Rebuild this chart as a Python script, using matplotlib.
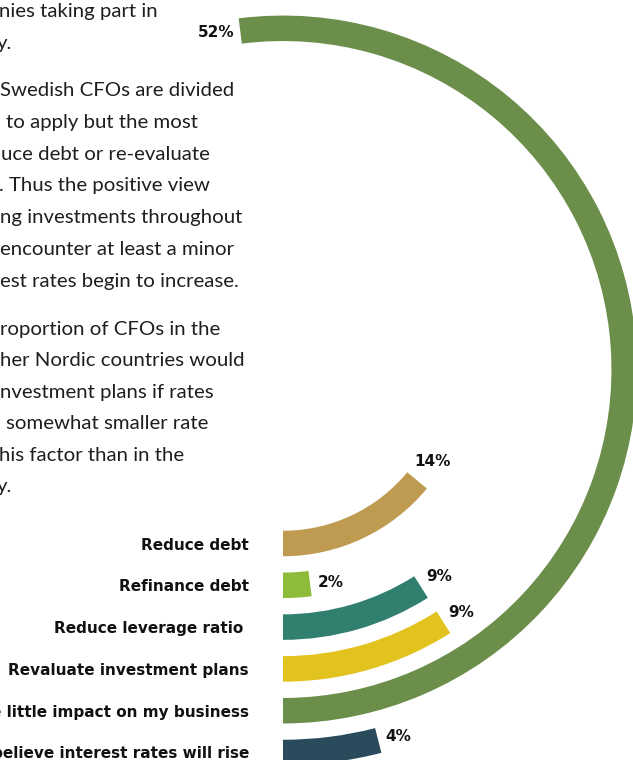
import numpy as np
import matplotlib.pyplot as plt

# Survey answers, innermost ring first
categories = ["Reduce debt", "Refinance debt", "Reduce leverage ratio ",
              "Revaluate investment plans", "e little impact on my business",
              "believe interest rates will rise"]
shares = [14, 2, 9, 9, 52, 4]
colors = ["#bf9b52", "#8fbb3b", "#31806f", "#e2c21d", "#6b8e4a", "#2a4b5c"]

# Body copy running down the left side (only the right part of each line shows)
para1 = ["nies taking part in", "y."]
para2 = ["Swedish CFOs are divided", "to apply but the most",
         "uce debt or re-evaluate", ". Thus the positive view",
         "ng investments throughout", "encounter at least a minor",
         "est rates begin to increase."]
para3 = ["roportion of CFOs in the", "her Nordic countries would",
         "nvestment plans if rates", "somewhat smaller rate",
         "his factor than in the", "y."]

W, H = 633, 760
BODY_FONT = "Lato"
LABEL_FONT = "DejaVu Sans"

fig = plt.figure(figsize=(W / 100, H / 100), dpi=100)
fig.patch.set_facecolor("white")


def body_text(lines, indents, y0, step):
    for k, (s, x) in enumerate(zip(lines, indents)):
        fig.text(x / W, 1 - (y0 + k * step) / H, s, ha="left", va="baseline",
                 fontsize=14.7, family=BODY_FONT, color="#1e1e1e")


body_text(para1, [-1, -3], 17, 31.8)
body_text(para2, [0.5, 6, 1, -1, 0, -0.5, 0], 96, 31.8)
body_text(para3, [0, 0, 0, 6, -1, -3], 335, 31.4)

# Polar axes centred on the rings; it hangs off the figure edges
cx, cy, R = 283, 369.5, 420
ax = fig.add_axes([(cx - R) / W, (H - cy - R) / H, 2 * R / W, 2 * R / H],
                  projection="polar")
ax.set_theta_zero_location("S")
ax.set_theta_direction(1)
ax.set_ylim(0, R)
ax.set_axis_off()
ax.patch.set_visible(False)

r0, step, thick = 174, 41.8, 25.5
for i, (name, share, color) in enumerate(zip(categories, shares, colors)):
    r = r0 + i * step
    span = share / 100 * 2 * np.pi
    ax.bar(0, thick, width=span, bottom=r - thick / 2, align="edge",
           color=color, linewidth=0)
    # value sits just past the end of its ring
    pad = 17 + 3.5 * len(str(share))
    ax.text(span + pad / r, r + 2, "{}%".format(share), ha="center", va="center",
            fontsize=11, family=LABEL_FONT, fontweight="bold", color="#111111")
    ax.annotate(name, xy=(0, r), xytext=(-34, -6), textcoords="offset pixels",
                ha="right", va="baseline", fontsize=11, family=LABEL_FONT,
                fontweight="bold", color="#111111")

fig.savefig("out.png", dpi=100)
